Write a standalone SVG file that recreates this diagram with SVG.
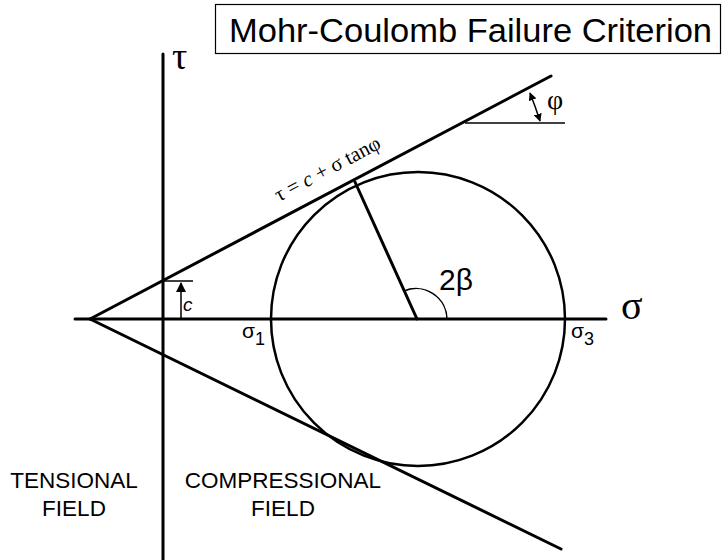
<svg xmlns="http://www.w3.org/2000/svg" width="727" height="560" viewBox="0 0 727 560">
<style>
.ln{stroke:#000;stroke-width:3;fill:none;stroke-linecap:round}
.thin{stroke:#000;stroke-width:1.5;fill:none}
.sans{font-family:"Liberation Sans",Arial,sans-serif;fill:#000}
.serif{font-family:"Liberation Serif","Times New Roman",serif;fill:#000}
</style>
<defs>
<marker id="ah" viewBox="0 0 10 10" refX="9" refY="5" markerWidth="8" markerHeight="8" markerUnits="userSpaceOnUse" orient="auto-start-reverse">
<path d="M0,0 L10,5 L0,10 z" fill="#000"/>
</marker>
<marker id="ahc" viewBox="0 0 10 10" refX="9" refY="5" markerWidth="10" markerHeight="10" markerUnits="userSpaceOnUse" orient="auto">
<path d="M0,0 L10,5 L0,10 z" fill="#000"/>
</marker>
</defs>
<g id="title">
<rect x="215.5" y="4.5" width="505" height="49" fill="#fff" stroke="#000" stroke-width="1.2"/>
<text class="sans" x="229" y="42" font-size="34" textLength="483" lengthAdjust="spacingAndGlyphs">Mohr-Coulomb Failure Criterion</text>
</g>
<g id="connectors">
<line class="ln" x1="75" y1="319" x2="606" y2="319"/>
<line class="ln" x1="163" y1="54" x2="163" y2="560"/>
<line class="ln" x1="90" y1="319" x2="551" y2="76"/>
<line class="ln" x1="90" y1="319" x2="561" y2="549"/>
<line class="ln" stroke-width="2.5" x1="417" y1="319" x2="355" y2="182"/>
<path class="thin" d="M447,319 A31,31 0 0 0 404,291" stroke="#444"/>
<line class="thin" x1="465" y1="123" x2="565" y2="123"/>
<path class="thin" d="M530,93 A492,492 0 0 1 540,121" marker-start="url(#ah)" marker-end="url(#ah)"/>
<line class="thin" x1="163" y1="281" x2="193" y2="281"/>
<line class="thin" x1="181" y1="319" x2="181" y2="283" marker-end="url(#ahc)"/>
</g>
<g id="circle">
<circle cx="418" cy="319" r="147" fill="none" stroke="#000" stroke-width="2.5"/>
</g>
<g id="labels">
<text class="serif" x="172" y="69" font-size="38">τ</text>
<text class="serif" x="621" y="319" font-size="40">σ</text>
<text class="serif" x="547" y="109" font-size="28">φ</text>
<text class="sans" x="183" y="311" font-size="19" font-style="italic">c</text>
<text class="sans" x="439" y="290" font-size="30">2β</text>
<text class="sans" x="242" y="338" font-size="21">σ<tspan font-size="18" dy="7">1</tspan></text>
<text class="sans" x="571" y="338" font-size="21">σ<tspan font-size="18" dy="7">3</tspan></text>
<text class="serif" font-size="21" transform="translate(279,202) rotate(-27.8)">τ = <tspan font-style="italic">c</tspan> + σ tanφ</text>
<text class="sans" font-size="22.5" text-anchor="middle" x="74" y="488">TENSIONAL</text>
<text class="sans" font-size="22.5" text-anchor="middle" x="74" y="516">FIELD</text>
<text class="sans" font-size="22.5" text-anchor="middle" x="283" y="488">COMPRESSIONAL</text>
<text class="sans" font-size="22.5" text-anchor="middle" x="283" y="516">FIELD</text>
</g>
</svg>
